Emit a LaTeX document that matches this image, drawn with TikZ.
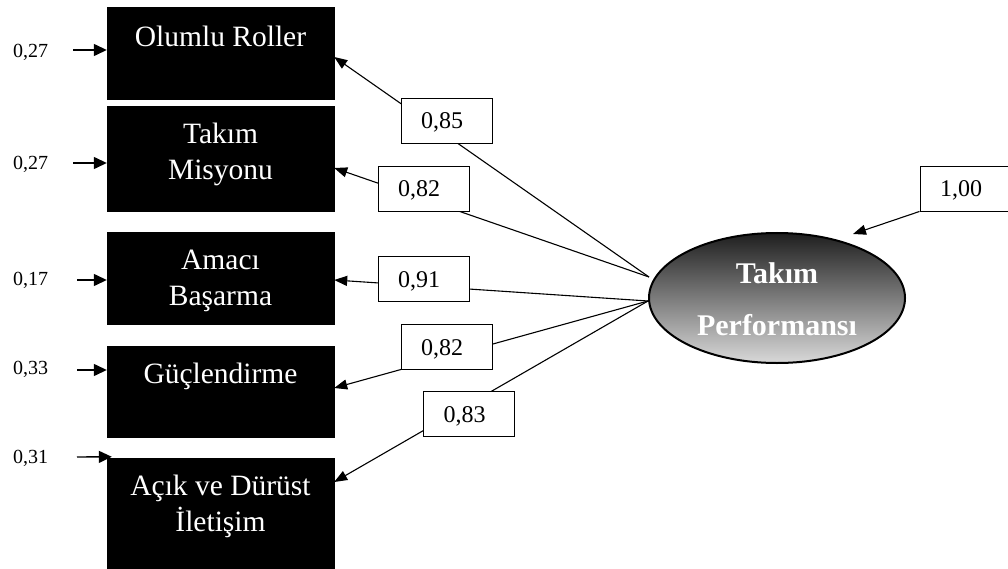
\documentclass[tikz,border=0pt]{standalone}
\usepackage{fontspec}
\setmainfont{Liberation Serif}
\usetikzlibrary{arrows.meta,shapes.geometric}
\begin{document}
\begin{tikzpicture}[x=1pt,y=-1pt,
  blk/.style={draw=black, fill=black, minimum width=227pt, inner sep=0pt},
  btxt/.style={text=white, font=\fontsize{29.5}{36}\selectfont, inner sep=0pt, align=center},
  lab/.style={draw=black, line width=0.9pt, fill=white, minimum height=45pt,
    text width=51pt, inner xsep=20pt, inner ysep=0pt, align=left,
    text height=17pt, text depth=0pt, font=\fontsize{24}{28}\selectfont},
  etxt/.style={font=\fontsize{20}{24}\selectfont, inner sep=0pt, anchor=base},
  arr/.style={-{Triangle[length=13pt,width=10pt]}, line width=1.1pt},
  ein/.style={-{Triangle[length=13pt,width=12pt]}, line width=1.4pt}]
\useasboundingbox (0,0) rectangle (1008,569);

% observed variables
\node[blk, minimum height=92pt]  (b1) at (220.5,53)    {};
\node[blk, minimum height=105pt] (b2) at (220.5,158.5) {};
\node[blk, minimum height=92pt]  (b3) at (220.5,278)   {};
\node[blk, minimum height=91pt]  (b4) at (220.5,391.5) {};
\node[blk, minimum height=111pt] (b5) at (220.5,513.5) {};

\node[btxt, anchor=base] (t1) at (220.5,47)    {Olumlu Roller};
\node[btxt]              (t2) at (220.5,154.3) {Takım\\Misyonu};
\node[btxt]              (t3) at (220.5,281.4) {Amacı\\Başarma};
\node[btxt, anchor=base] (t4) at (220.5,383)   {Güçlendirme};
\node[btxt]              (t5) at (220.5,506.6) {Açık ve Dürüst\\İletişim};

% latent variable
\node[ellipse, draw=black, line width=2pt, minimum width=256pt, minimum height=130pt,
      inner sep=0pt, top color=black!88, bottom color=black!15] (tp) at (777,298) {};
\node[text=white, font=\bfseries\fontsize{30}{52}\selectfont, align=center, inner sep=0pt]
      (tpt) at (777,299.2) {Takım\\Performansı};

\coordinate (hubA) at ([xshift=1pt,yshift=21pt]tp.west);
\coordinate (hubB) at ([yshift=-3pt]tp.west);

% loadings
\draw[arr] (hubA) -- ([yshift=-4pt]b1.east);
\draw[arr] (hubA) -- ([yshift=-9.5pt]b2.east);
\draw[arr] (hubB) -- ([yshift=-2pt]b3.east);
\draw[arr] (hubB) -- ([yshift=3.5pt]b4.east);
\draw[arr] (hubB) -- ([yshift=31.5pt]b5.east);

\node[lab] (l1) at (446.5,120.5) {0,85};
\node[lab] (l2) at (423.5,188.5) {0,82};
\node[lab] (l3) at (423.5,278.5) {0,91};
\node[lab] (l4) at (446.5,346.5) {0,82};
\node[lab] (l5) at (469,414)     {0,83};

% disturbance of the latent variable
\node[lab] (l6) at (965.5,188.5) {1,00};
\coordinate (errtip) at (853,234);
\draw[arr] (l6.south west) -- (errtip);

% error terms
\node[etxt] (e1) at (30.5,58)  {0,27};
\node[etxt] (e2) at (30.5,170) {0,27};
\node[etxt] (e3) at (30.5,285) {0,17};
\node[etxt] (e4) at (30.5,374) {0,33};
\node[etxt] (e5) at (30.5,463) {0,31};

\coordinate (s1) at (73,50);
\coordinate (s2) at (73,163);
\coordinate (s3) at (77,280);
\coordinate (s4) at (77,370);
\coordinate (s5) at (77,457);
\draw[ein] (s1) -- (b1.west |- s1);
\draw[ein] (s2) -- (b2.west |- s2);
\draw[ein] (s3) -- (b3.west |- s3);
\draw[ein] (s4) -- (b4.west |- s4);
\draw[ein] (s5) -- ([xshift=5pt,yshift=1pt]b5.north west);
\end{tikzpicture}
\end{document}
